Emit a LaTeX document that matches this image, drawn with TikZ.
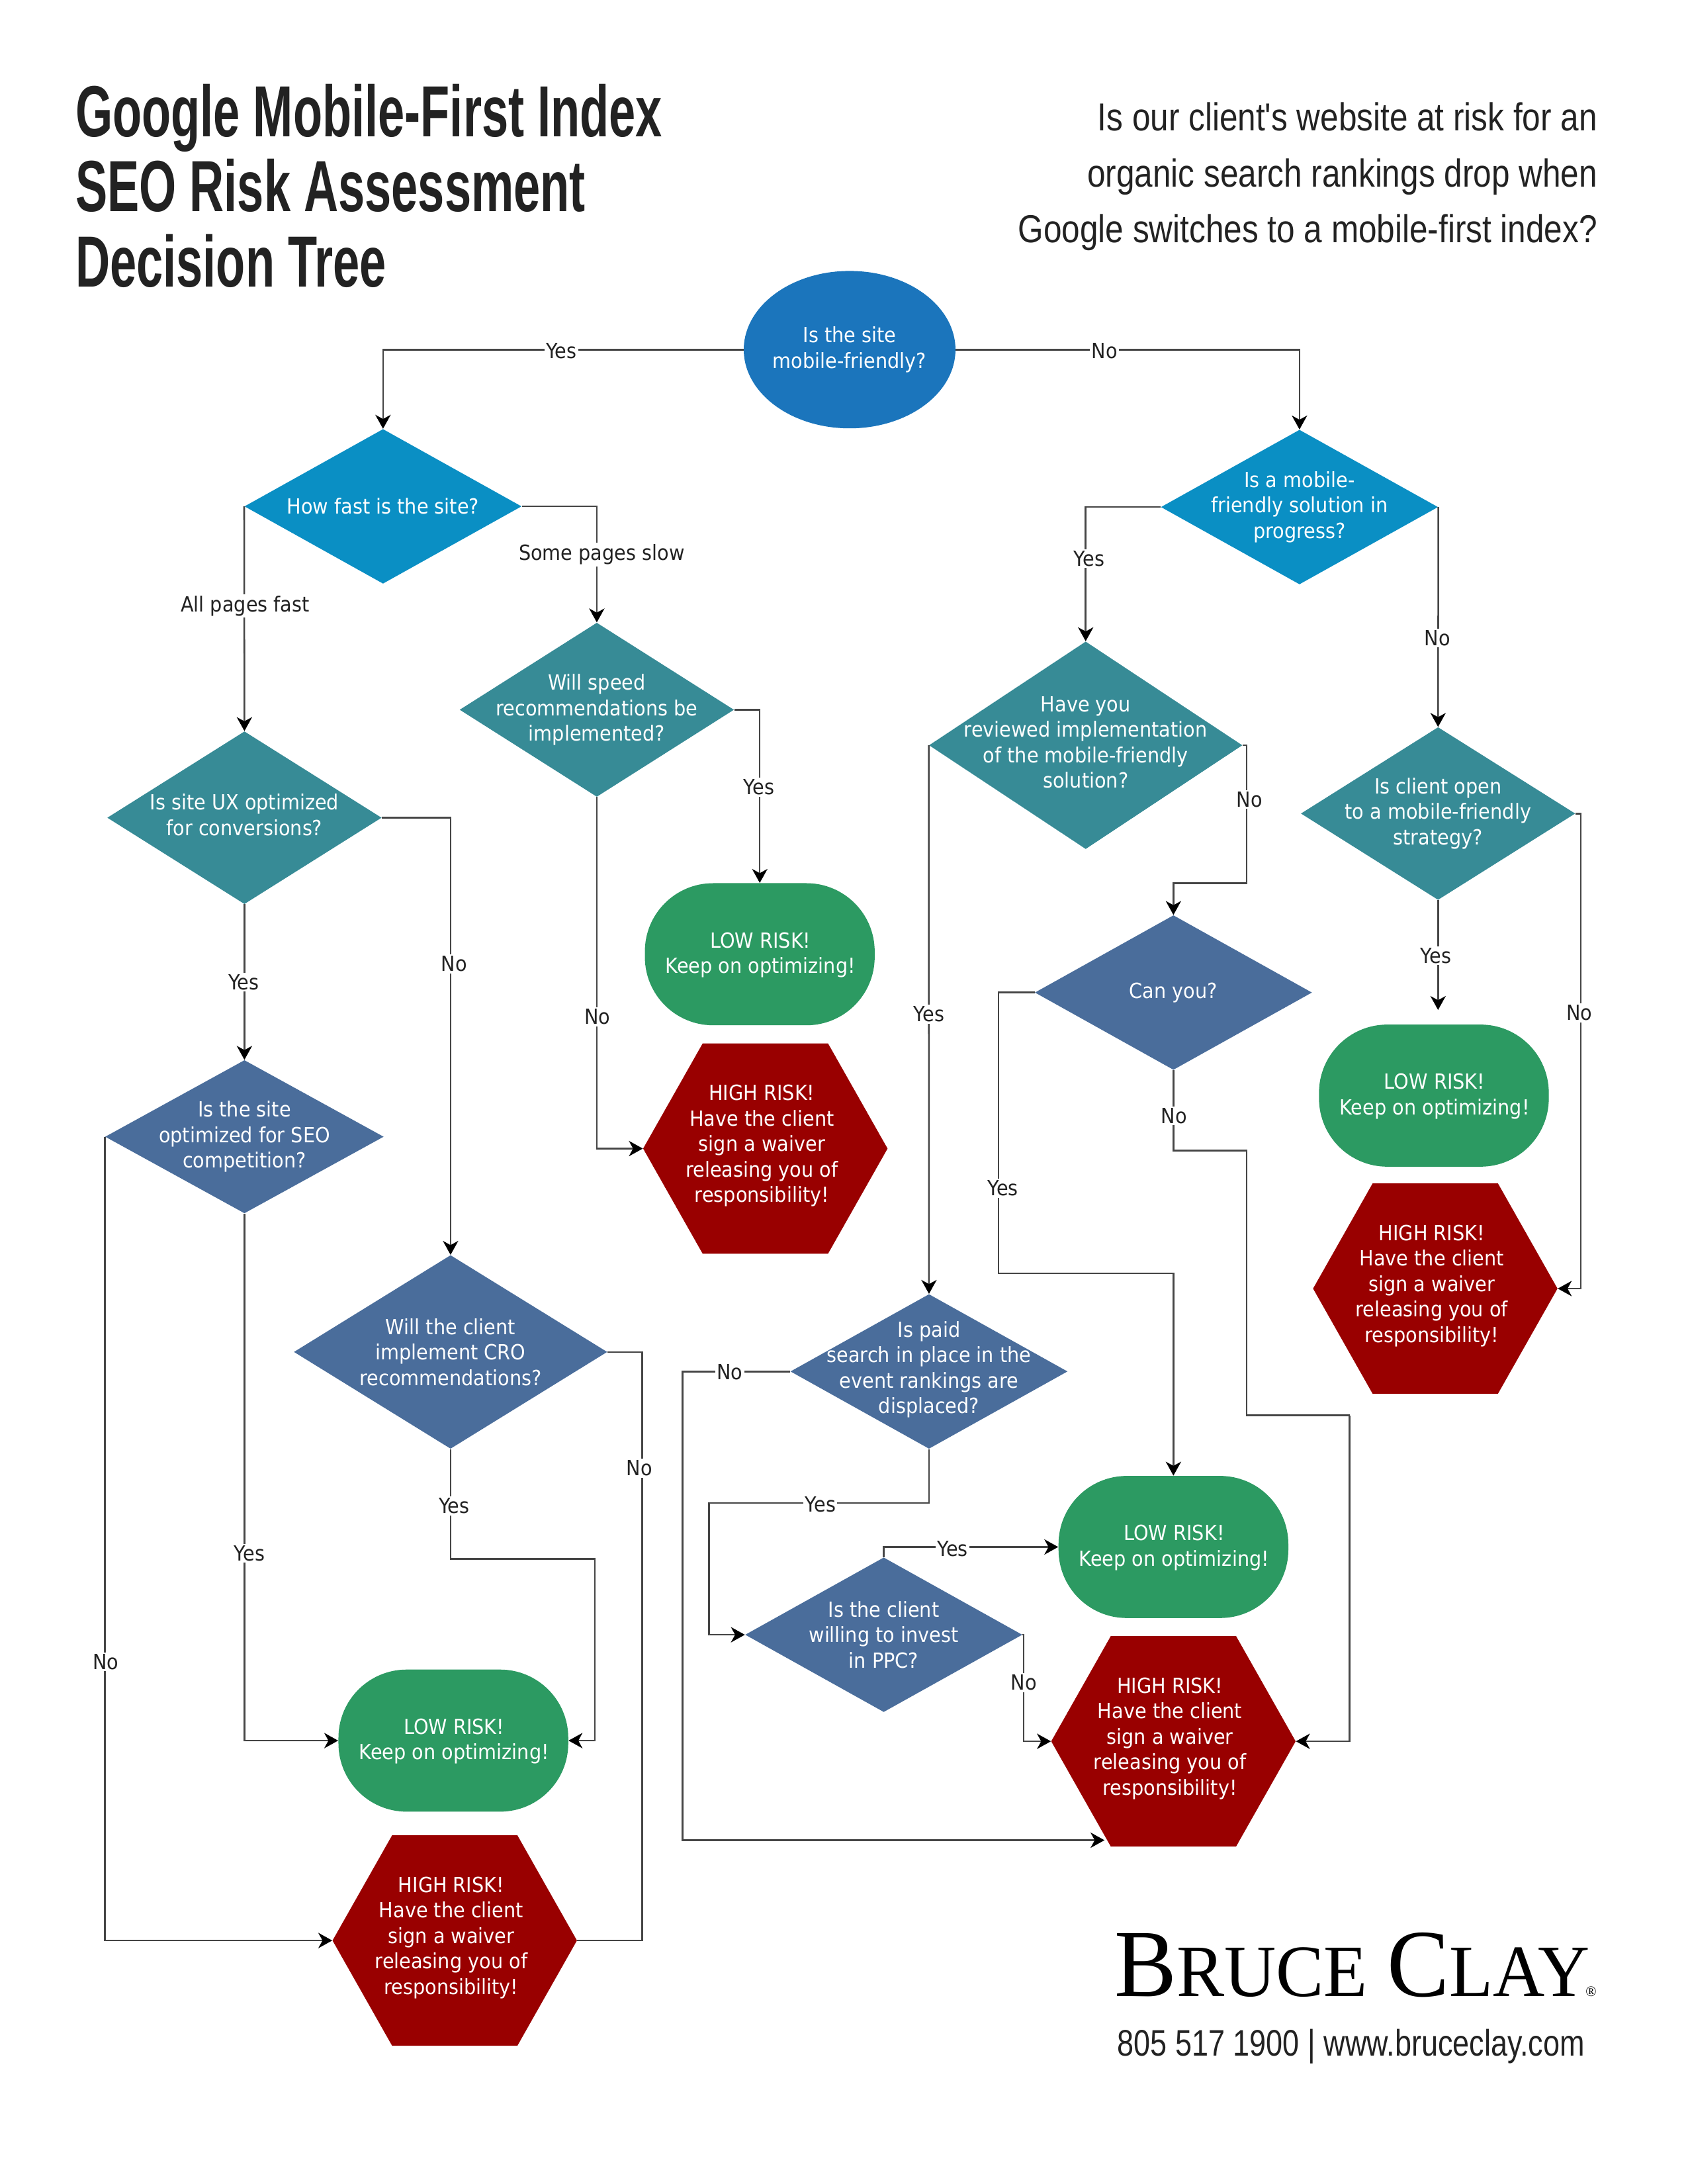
\documentclass[tikz,border=0pt]{standalone}
\usepackage{fontspec}
\usetikzlibrary{shapes.geometric,arrows.meta,calc}
\setmainfont[FakeStretch=0.91]{DejaVu Sans}
\newfontfamily\titlefont[FakeStretch=0.66]{Liberation Sans Bold}
\newfontfamily\subfont[FakeStretch=0.84]{Liberation Sans}
\newfontfamily\contactfont[FakeStretch=0.807]{Liberation Sans}
\newfontfamily\logofont[FakeStretch=0.97]{Liberation Serif}
\definecolor{cstart}{HTML}{1B75BC}
\definecolor{ccyan}{HTML}{0A8FC4}
\definecolor{cteal}{HTML}{378B96}
\definecolor{cblue}{HTML}{4A6D9B}
\definecolor{cgreen}{HTML}{2C9A62}
\definecolor{cred}{HTML}{990000}
\definecolor{cline}{HTML}{454545}
\definecolor{cink}{HTML}{222222}
\tikzset{
  conn/.style={draw=cline,line width=1.2pt,line join=miter},
  arr/.style={conn,-{Stealth[length=10pt,width=11pt,inset=3pt,black]}},
  dia/.style={diamond,inner sep=0pt,draw=none},
  shapetext/.style={text=white,align=center,font=\fontsize{15}{18.3}\selectfont,inner sep=0pt},
  lowrisk/.style={rectangle,rounded corners=49pt,fill=cgreen,minimum width=165pt,minimum height=102pt,inner sep=0pt},
  hexbox/.style={rectangle,minimum width=175.5pt,minimum height=151pt,inner sep=0pt},
  lab/.style={fill=white,inner sep=1.2pt,text=cink,font=\fontsize{15}{18}\selectfont},
  title/.style={anchor=base west,text=cink,inner sep=0pt,font=\titlefont\fontsize{52}{54}\selectfont},
  sub/.style={anchor=base east,text=cink,inner sep=0pt,font=\subfont\fontsize{28}{40}\selectfont},
}
% decision: [text shift], name, x, y, w, h, colour, text
\newcommand{\qd}[8][0]{%
  \node[dia,fill=#7,minimum width=#5pt,minimum height=#6pt] (#2) at (#3,#4) {};
  \node[shapetext] (#2t) at (#3,#4+#1) {#8};}
\newcommand{\lown}[3]{%
  \node[lowrisk] (#1) at (#2,#3) {};
  \node[shapetext] (#1t) at (#2+0.5,#3+0.5) {LOW RISK!\\Keep on optimizing!};}
\newcommand{\highn}[3]{%
  \fill[cred] (#2-87.75,#3) -- (#2-45,#3-75.5) -- (#2+45,#3-75.5) -- (#2+87.75,#3) -- (#2+45,#3+75.5) -- (#2-45,#3+75.5) -- cycle;
  \node[hexbox] (#1) at (#2,#3) {};
  \node[shapetext] (#1t) at (#2-2.5,#3-2) {HIGH RISK!\\Have the client\\sign a waiver\\releasing you of\\responsibility!};}
\begin{document}
\begin{tikzpicture}[x=1pt,y=-1pt]
\useasboundingbox (0,0) rectangle (1211.5,1567.8);
% heading
\node[title] (t1) at (54,98) {Google Mobile-First Index};
\node[title] (t2) at (54,152) {SEO Risk Assessment};
\node[title] (t3) at (54,206) {Decision Tree};
\node[sub] (s1) at (1147,94) {Is our client's website at risk for an};
\node[sub] (s2) at (1147,134) {organic search rankings drop when};
\node[sub] (s3) at (1147,174) {Google switches to a mobile-first index?};
% start
\node[ellipse,fill=cstart,minimum width=152pt,minimum height=113pt,inner sep=0pt] (start) at (610,251) {};
\node[shapetext] (startt) at (610,251) {Is the site\\mobile-friendly?};
% decisions
\qd{d1}{275}{363.5}{199}{111}{ccyan}{How fast is the site?}
\qd{d2}{933}{364}{199}{111}{ccyan}{Is a mobile-\\friendly solution in\\progress?}
\qd{d3}{428.5}{509.5}{197}{125}{cteal}{Will speed\\recommendations be\\implemented?}
\qd[-2]{d4}{779.5}{535}{225}{149}{cteal}{Have you\\reviewed implementation\\of the mobile-friendly\\solution?}
\qd[-2]{d5}{175.5}{587}{197}{124}{cteal}{Is site UX optimized\\for conversions?}
\qd{d6}{1032.5}{584}{197}{124}{cteal}{Is client open\\to a mobile-friendly\\strategy?}
\qd{d7}{842.5}{712.5}{199}{111}{cblue}{Can you?}
\qd{d8}{175.5}{816}{200}{110}{cblue}{Is the site\\optimized for SEO\\competition?}
\qd{d9}{323.5}{970.5}{225}{139}{cblue}{Will the client\\implement CRO\\recommendations?}
\qd[-1.5]{d10}{667}{984.5}{199}{111}{cblue}{Is paid\\search in place in the\\event rankings are\\displaced?}
\qd{d11}{634.5}{1173.5}{199}{111}{cblue}{Is the client\\willing to invest\\in PPC?}
% outcomes
\lown{l1}{545.5}{685}
\lown{l2}{1029.5}{786.5}
\lown{l3}{842.5}{1110.5}
\lown{l4}{325.5}{1249.5}
\highn{h1}{549.5}{824.5}
\highn{h2}{1030.5}{925}
\highn{h3}{842.5}{1250}
\highn{h4}{326.5}{1393}
% bends
\coordinate (a1) at (895,634);
\coordinate (b1) at (1135,925);
\coordinate (c1) at (717,914);
\coordinate (c2) at (842.5,914);
\coordinate (e1) at (842.5,826);
\coordinate (e2) at (895,1016);
\coordinate (e3) at (969,1016);
\coordinate (f1) at (427,1119);
\coordinate (f2) at (323.5,1119);
\coordinate (g1) at (490,1321);
\coordinate (g2) at (793,1321);
\coordinate (i1) at (509,1079);
\coordinate (j1) at (634.5,1110.5);
\coordinate (m1) at (735,1250);
\coordinate (l2top) at (1032.5,725);
\coordinate (k1) at (461,1393);
% connectors
\draw[arr] (start.west) -| (d1.north);
\draw[arr] (start.east) -| (d2.north);
\draw[arr] (d1.west) -- (d5.north);
\draw[arr] (d1.east) -| (d3.north);
\draw[arr] (d2.west) -| (d4.north);
\draw[arr] (d2.east) -- (d6.north);
\draw[arr] (d3.east) -| (l1.north);
\draw[arr] (d3.south) |- (h1.west);
\draw[arr] (d4.west) -- (d10.north);
\draw[arr] (d4.east) -| (a1) -| (d7.north);
\draw[arr] (d5.east) -| (d9.north);
\draw[arr] (d5.south) -- (d8.north);
\draw[arr] (d6.south) -- (l2top);
\draw[arr] (d6.east) -| (b1) -- (h2.east);
\draw[arr] (d7.west) -| (c1) -- (c2) -- (l3.north);
\draw[conn] (d7.south) -- (e1) -| (e2) -- (e3);
\draw[arr] (e3) |- (h3.east);
\draw[arr] (d8.south) |- (l4.west);
\draw[arr] (d8.west) |- (h4.west);
\draw[arr] (d9.south) -- (f2) -- (f1) |- (l4.east);
\draw[conn] (d9.east) -| (k1) -- (h4.east);
\draw[arr] (d10.west) -| (g1) -- (g2);
\draw[arr] (d10.south) |- (i1) |- (d11.west);
\draw[arr] (d11.north) -- (j1) -- (l3.west);
\draw[arr] (d11.east) -| (m1) -- (h3.west);
% labels
\node[lab] (n1) at (403,252) {Yes};
\node[lab] (n2) at (793,252) {No};
\node[lab] (n3) at (176,435) {All pages fast};
\node[lab] (n4) at (432,398) {Some pages slow};
\node[lab] (n5) at (782,401) {Yes};
\node[lab] (n6) at (1032,458) {No};
\node[lab] (n7) at (545,565) {Yes};
\node[lab] (n8) at (429,730) {No};
\node[lab] (n9) at (667,728) {Yes};
\node[lab] (n10) at (897,574) {No};
\node[lab] (n11) at (326,692) {No};
\node[lab] (n12) at (175,705) {Yes};
\node[lab] (n13) at (1031,686) {Yes};
\node[lab] (n14) at (1134,727) {No};
\node[lab] (n15) at (720,853) {Yes};
\node[lab] (n16) at (843,801) {No};
\node[lab] (n17) at (179,1115) {Yes};
\node[lab] (n18) at (76,1193) {No};
\node[lab] (n19) at (326,1081) {Yes};
\node[lab] (n20) at (459,1054) {No};
\node[lab] (n21) at (524,985) {No};
\node[lab] (n22) at (589,1080) {Yes};
\node[lab] (n23) at (684,1112) {Yes};
\node[lab] (n24) at (735,1208) {No};
% logo
\node[anchor=base west,inner sep=0pt,text=black,font=\logofont] (logo) at (800,1433) {\fontsize{69}{69}\selectfont B\fontsize{53}{53}\selectfont RUCE\hspace{14pt}\fontsize{69}{69}\selectfont C\fontsize{53}{53}\selectfont LAY\kern-3pt\fontsize{10.5}{10.5}\selectfont ®};
\node[anchor=base west,inner sep=0pt,text=cink,font=\contactfont\fontsize{26.5}{30}\selectfont] (contact) at (802,1476) {805 517 1900 | www.bruceclay.com};
\end{tikzpicture}
\end{document}
